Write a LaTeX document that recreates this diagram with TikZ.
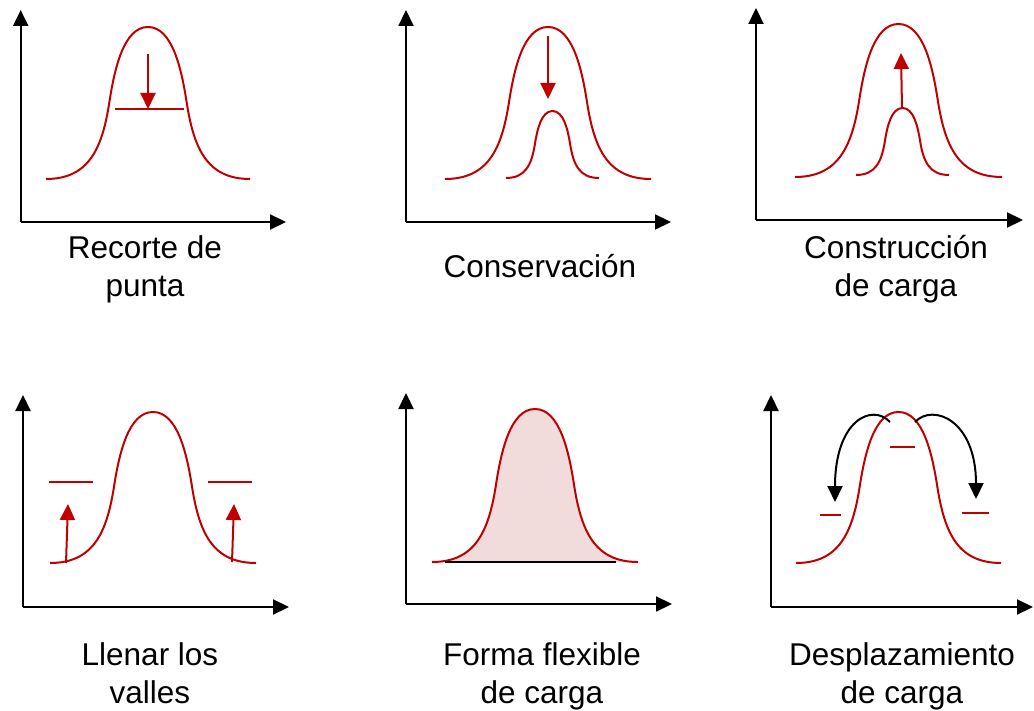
\documentclass[tikz,border=0pt]{standalone}
\usepackage{fontspec}
\setmainfont{Liberation Sans}
\usetikzlibrary{arrows.meta}
\definecolor{dred}{HTML}{C00000}
\definecolor{pinkfill}{HTML}{F2DCDB}
\newcommand{\bellcurve}[5]{%
  \begin{scope}[shift={(#1,#2)},xscale=#3,yscale=-#4]
    \draw[curve,#5] (-1,0) .. controls (-0.58,0) and (-0.45,0.2) .. (-0.38,0.5)
      .. controls (-0.33,0.72) and (-0.24,1) .. (0,1)
      .. controls (0.24,1) and (0.33,0.72) .. (0.38,0.5)
      .. controls (0.45,0.2) and (0.58,0) .. (1,0);
  \end{scope}}
\begin{document}
\begin{tikzpicture}[x=1pt,y=-1pt,
  axis/.style={line width=2.2pt,-{Triangle[length=16pt,width=15pt]}},
  curve/.style={dred,line width=2pt},
  redline/.style={dred,line width=2pt},
  redarrow/.style={dred,line width=2pt,-{Triangle[length=16pt,width=15pt]}},
  blackarrow/.style={black,line width=2pt,-{Triangle[length=16pt,width=15pt]}},
  lbl/.style={anchor=base,inner sep=0pt,font=\fontsize{31.5}{38}\selectfont}]
\useasboundingbox (0,0) rectangle (1034,711);
% ---------- Panel 1 ----------
\coordinate (o1) at (20.7,222);
\coordinate (y1) at (20.7,10);
\coordinate (x1) at (286,222);
\draw[axis] (o1) -- (y1);
\draw[axis] (o1) -- (x1);
\bellcurve{148}{179}{102}{152}{}
\coordinate (l1a) at (115,109);
\coordinate (l1b) at (184,109);
\draw[redline] (l1a) -- (l1b);
\coordinate (a1s) at (148,54);
\coordinate (a1e) at (148,109);
\draw[redarrow] (a1s) -- (a1e);
\node[lbl] (t1a) at (145,259) {Recorte de};
\node[lbl] (t1b) at (145,297) {punta};
% ---------- Panel 2 ----------
\coordinate (o2) at (406,222);
\coordinate (y2) at (406,10);
\coordinate (x2) at (671,222);
\draw[axis] (o2) -- (y2);
\draw[axis] (o2) -- (x2);
\bellcurve{548}{179}{103}{152}{}
\bellcurve{552.5}{178}{46.5}{67}{}
\coordinate (a2s) at (548,36);
\coordinate (a2e) at (548,99);
\draw[redarrow] (a2s) -- (a2e);
\node[lbl] (t2) at (540,278) {Conservación};
% ---------- Panel 3 ----------
\coordinate (o3) at (756,220);
\coordinate (y3) at (756,8);
\coordinate (x3) at (1023,220);
\draw[axis] (o3) -- (y3);
\draw[axis] (o3) -- (x3);
\bellcurve{898.5}{177}{103.5}{153}{}
\bellcurve{902.5}{175}{46.5}{67}{}
\coordinate (a3s) at (902,108);
\coordinate (a3e) at (901,53);
\draw[redarrow] (a3s) -- (a3e);
\node[lbl] (t3a) at (896,259) {Construcción};
\node[lbl] (t3b) at (896,297) {de carga};
% ---------- Panel 4 ----------
\coordinate (o4) at (23,607);
\coordinate (y4) at (23,395);
\coordinate (x4) at (289,607);
\draw[axis] (o4) -- (y4);
\draw[axis] (o4) -- (x4);
\bellcurve{153}{563}{103}{151}{}
\coordinate (l4a) at (49,482);
\coordinate (l4b) at (93,482);
\coordinate (l4c) at (208,482);
\coordinate (l4d) at (252,482);
\draw[redline] (l4a) -- (l4b);
\draw[redline] (l4c) -- (l4d);
\coordinate (a4s) at (66,563);
\coordinate (a4e) at (68,504);
\coordinate (a4t) at (232,562);
\coordinate (a4u) at (234,504);
\draw[redarrow] (a4s) -- (a4e);
\draw[redarrow] (a4t) -- (a4u);
\node[lbl] (t4a) at (150,665) {Llenar los};
\node[lbl] (t4b) at (150,703) {valles};
% ---------- Panel 5 ----------
\coordinate (o5) at (406,604);
\coordinate (y5) at (406,393);
\coordinate (x5) at (672,604);
\draw[axis] (o5) -- (y5);
\draw[axis] (o5) -- (x5);
\bellcurve{535}{562}{103}{153}{fill=pinkfill}
\coordinate (b5a) at (445,562);
\coordinate (b5b) at (616,562);
\draw[line width=2pt] (b5a) -- (b5b);
\node[lbl] (t5a) at (542,665) {Forma flexible};
\node[lbl] (t5b) at (542,703) {de carga};
% ---------- Panel 6 ----------
\coordinate (o6) at (771,607);
\coordinate (y6) at (771,395);
\coordinate (x6) at (1033,607);
\draw[axis] (o6) -- (y6);
\draw[axis] (o6) -- (x6);
\bellcurve{898.5}{563}{102.5}{151}{}
\coordinate (d6a) at (890,447);
\coordinate (d6b) at (915,447);
\coordinate (d6c) at (820,515);
\coordinate (d6d) at (841,515);
\coordinate (d6e) at (962,513);
\coordinate (d6f) at (989,513);
\draw[redline] (d6a) -- (d6b);
\draw[redline] (d6c) -- (d6d);
\draw[redline] (d6e) -- (d6f);
\coordinate (c6l) at (890,422);
\coordinate (c6le) at (835,502);
\coordinate (c6r) at (915,422);
\coordinate (c6re) at (976,499);
\draw[blackarrow] (c6l) .. controls (872,403) and (835,420) .. (c6le);
\draw[blackarrow] (c6r) .. controls (933,403) and (976,420) .. (c6re);
\node[lbl] (t6a) at (902,665) {Desplazamiento};
\node[lbl] (t6b) at (902,703) {de carga};
\end{tikzpicture}
\end{document}
